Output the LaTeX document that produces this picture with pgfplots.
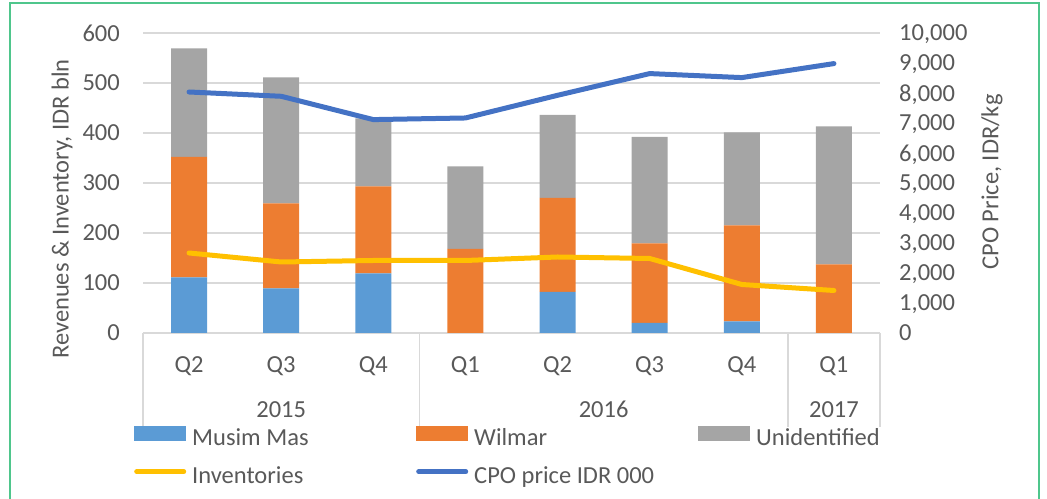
\documentclass[border=0pt]{standalone}
\usepackage{pgfplots}
\pgfplotsset{compat=1.18}
\usepackage{fontspec}
\setmainfont{Carlito}
\definecolor{mm}{HTML}{5B9BD5}
\definecolor{wil}{HTML}{ED7D31}
\definecolor{uni}{HTML}{A5A5A5}
\definecolor{inv}{HTML}{FFC000}
\definecolor{cpo}{HTML}{4472C4}
\definecolor{txt}{HTML}{595959}
\definecolor{gridc}{HTML}{D9D9D9}
\definecolor{framec}{HTML}{4FC68C}
\newcommand\f{\fontsize{24.5bp}{29bp}\selectfont}
\newcommand\lb[1]{\makebox[218bp][l]{#1}}
\begin{document}
\begin{tikzpicture}[x=1bp,y=1bp]
\useasboundingbox (0,0) rectangle (1047,499);
\draw[framec, line width=2.5bp] (10,-10) -- (10,496) -- (1039,496) -- (1039,-10);
% axis 1: stacked bars
\begin{axis}[at={(143bp,166bp)}, anchor=south west, scale only axis,
  width=737bp, height=300bp,
  xmin=-0.5, xmax=7.5, ymin=0, ymax=600, enlargelimits=false, clip=false,
  ybar stacked, bar width=36bp,
  xtick={0,...,7}, xticklabels={Q2,Q3,Q4,Q1,Q2,Q3,Q4,Q1},
  ytick={0,100,...,600},
  ymajorgrids, grid style={gridc, line width=1.3bp},
  axis x line*=bottom, axis y line*=left,
  x axis line style={gridc, line width=1.3bp, -},
  y axis line style={draw=none},
  major tick length=0pt, tick style={draw=none},
  /pgf/number format/assume math mode=true,
  tick label style={font=\f, text=txt},
  xticklabel style={anchor=base, inner sep=0pt, yshift=-40bp},
  yticklabel style={anchor=east, inner sep=0pt, xshift=-23bp},
  legend columns=3, legend cell align=left,
  legend style={at={(-0.0122,-0.31)}, anchor=north west, draw=none, fill=none,
    inner sep=0pt, row sep=18bp, font=\f, text=txt,
    nodes={inner xsep=6bp, inner ysep=0pt, text height=15bp, text depth=5bp},
    /tikz/every even column/.append style={column sep=0pt}},
]
\addplot[fill=mm, draw=none, legend image code/.code={\fill[mm] (0,-0.5bp) rectangle (52bp,14.5bp);}]
  coordinates {(0,111) (1,89) (2,119) (3,0) (4,82) (5,20) (6,23) (7,0)};
\addlegendentry{\lb{Musim Mas}}
\addplot[fill=wil, draw=none, legend image code/.code={\fill[wil] (0,-0.5bp) rectangle (52bp,14.5bp);}]
  coordinates {(0,241) (1,170) (2,174) (3,168) (4,188) (5,159) (6,192) (7,137)};
\addlegendentry{\lb{Wilmar}}
\addplot[fill=uni, draw=none, legend image code/.code={\fill[uni] (0,-0.5bp) rectangle (52bp,14.5bp);}]
  coordinates {(0,217) (1,252) (2,136) (3,165) (4,166) (5,213) (6,186) (7,276)};
\addlegendentry{Unidentified}
\addlegendimage{legend image code/.code={\draw[inv, line width=5bp, line cap=round] (2.5bp,7bp) -- (49.5bp,7bp);}}
\addlegendentry{\lb{Inventories}}
\addlegendimage{legend image code/.code={\draw[cpo, line width=5bp, line cap=round] (2.5bp,7bp) -- (49.5bp,7bp);}}
\addlegendentry{\lb{CPO price IDR 000}}
% category separators and years
\draw[gridc, line width=1.3bp] (axis cs:-0.5,0) -- ([yshift=-94bp]axis cs:-0.5,0);
\draw[gridc, line width=1.3bp] (axis cs:2.5,0) -- ([yshift=-94bp]axis cs:2.5,0);
\draw[gridc, line width=1.3bp] (axis cs:6.5,0) -- ([yshift=-94bp]axis cs:6.5,0);
\draw[gridc, line width=1.3bp] (axis cs:7.5,0) -- ([yshift=-94bp]axis cs:7.5,0);
\node[anchor=base, font=\f, text=txt, inner sep=0pt] at ([yshift=-85bp]axis cs:1,0) {2015};
\node[anchor=base, font=\f, text=txt, inner sep=0pt] at ([yshift=-85bp]axis cs:4.5,0) {2016};
\node[anchor=base, font=\f, text=txt, inner sep=0pt] at ([yshift=-85bp]axis cs:7,0) {2017};
\end{axis}
% axis 2: inventories on left scale
\begin{axis}[at={(143bp,166bp)}, anchor=south west, scale only axis,
  width=737bp, height=300bp,
  xmin=-0.5, xmax=7.5, ymin=0, ymax=600, enlargelimits=false, hide axis]
\addplot[inv, line width=5bp, line cap=round, line join=round, mark=none]
  coordinates {(0,160) (1,142) (2,145) (3,145) (4,152) (5,149) (6,97) (7,85)};
\end{axis}
% axis 3: CPO price on right scale
\begin{axis}[at={(143bp,166bp)}, anchor=south west, scale only axis,
  width=737bp, height=300bp,
  xmin=-0.5, xmax=7.5, ymin=0, ymax=10000, enlargelimits=false,
  axis x line=none, axis y line*=right,
  y axis line style={draw=none}, major tick length=0pt, tick style={draw=none},
  ytick={0,1000,...,10000},
  scaled y ticks=false,
  /pgf/number format/assume math mode=true,
  /pgf/number format/1000 sep={,},
  yticklabel style={font=\f, text=txt, anchor=west, inner sep=0pt, text depth=0pt, xshift=19bp},
]
\addplot[cpo, line width=5bp, line cap=round, line join=round, mark=none]
  coordinates {(0,8033) (1,7890) (2,7113) (3,7167) (4,7923) (5,8647) (6,8513) (7,8980)};
\end{axis}
\node[rotate=90, font=\f, text=txt] at (62,290) {Revenues \& Inventory, IDR bln};
\node[rotate=90, font=\f, text=txt] at (992,317) {CPO Price, IDR/kg};
\end{tikzpicture}
\end{document}
